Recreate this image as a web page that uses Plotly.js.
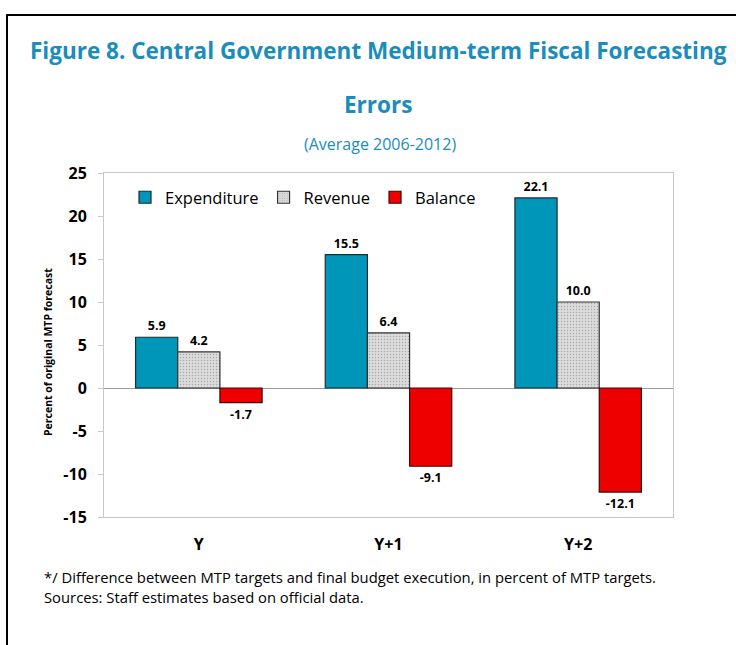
<!DOCTYPE html>
<html>
<head>
<meta charset="utf-8">
<script src="https://cdn.plot.ly/plotly-3.0.1.min.js"></script>
<style>
  html, body { margin:0; padding:0; background:#fff; }
  #chart { width:736px; height:645px; position:absolute; left:0; top:0; }
  #frame { position:absolute; left:6px; top:14px; width:740px; height:640px;
           border-left:2px solid #000; border-top:2px solid #000; pointer-events:none; z-index:5; }
</style>
</head>
<body>
<div id="chart"></div>
<div id="frame"></div>
<script>
const categories = ["Y", "Y+1", "Y+2"];
const expenditure = [5.9, 15.5, 22.1];
const revenue = [4.2, 6.4, 10.0];
const balance = [-1.7, -9.1, -12.1];
const seriesNames = ["Expenditure", "Revenue", "Balance"];
const yTicks = [-15, -10, -5, 0, 5, 10, 15, 20, 25];

const FONT = "'Open Sans', sans-serif";
const NUMFONT = "'Open Sans', sans-serif";
const TEAL = "#1B8CBB";

function fmt(v){ return v.toFixed(1); }

const labelFont = {family: NUMFONT, size: 12.5, color: "#000", weight: "bold"};

const traces = [
  {type:"bar", name:seriesNames[0], x:categories, y:expenditure,
   text: expenditure.map(fmt), textposition:"outside", textfont: labelFont, cliponaxis:false,
   marker:{color:"#0096BA", line:{color:"#1d2b33", width:1.2}}},
  {type:"bar", name:seriesNames[1], x:categories, y:revenue,
   text: revenue.map(fmt), textposition:"outside", textfont: labelFont, cliponaxis:false,
   marker:{color:"#d6d6d6", line:{color:"#333", width:1.2},
           pattern:{shape:".", bgcolor:"#dcdcdc", fgcolor:"#a8a8a8", size:3, solidity:0.2}}},
  {type:"bar", name:seriesNames[2], x:categories, y:balance,
   text: balance.map(fmt), textposition:"outside", textfont: labelFont, cliponaxis:false,
   marker:{color:"#EE0000", line:{color:"#3a0a0a", width:1.2}}}
];

const L = 104, R = 673, T = 173, B = 517;
const px = x => (x - L) / (R - L);
const py = y => (B - y) / (B - T);

const layout = {
  width:736, height:645,
  margin:{l:L, r:736-R, t:T, b:645-B, pad:0},
  paper_bgcolor:"#fff", plot_bgcolor:"#fff",
  barmode:"group", bargap:0.333, bargroupgap:0,
  showlegend:true,
  legend:{orientation:"h", x:px(125), y:py(180), xanchor:"left", yanchor:"top",
          font:{family:FONT, size:16.5, color:"#000"}, bgcolor:"rgba(0,0,0,0)",
          traceorder:"normal", itemwidth:30},
  xaxis:{type:"category", showgrid:false, zeroline:false, showline:true, mirror:true,
         linecolor:"#c8c8c8", linewidth:1, ticks:"", ticklabelstandoff:13,
         tickfont:{family:NUMFONT, size:16, color:"#000", weight:"bold"}},
  yaxis:{range:[-15,25], tickvals:yTicks, ticktext:yTicks.map(String), showgrid:false,
         zeroline:true, zerolinecolor:"#9a9a9a", zerolinewidth:1,
         showline:true, mirror:true, linecolor:"#c8c8c8", linewidth:1,
         ticks:"outside", ticklen:5, tickcolor:"#c8c8c8", ticklabelstandoff:8,
         tickfont:{family:NUMFONT, size:16, color:"#000", weight:"bold"}},
  annotations:[
    {xref:"paper", yref:"paper", x:px(378), y:py(50), xanchor:"center", yanchor:"middle", showarrow:false,
     text:"Figure 8. Central Government Medium-term Fiscal Forecasting",
     font:{family:FONT, size:22.5, color:TEAL, weight:"bold"}},
    {xref:"paper", yref:"paper", x:px(378), y:py(104), xanchor:"center", yanchor:"middle", showarrow:false,
     text:"Errors", font:{family:FONT, size:22.5, color:TEAL, weight:"bold"}},
    {xref:"paper", yref:"paper", x:px(380), y:py(144), xanchor:"center", yanchor:"middle", showarrow:false,
     text:"(Average 2006-2012)", font:{family:FONT, size:16, color:TEAL}},
    {xref:"paper", yref:"paper", x:px(48), y:py(352), xanchor:"center", yanchor:"middle", showarrow:false,
     textangle:-90, text:"Percent of original MTP forecast",
     font:{family:FONT, size:10.5, color:"#000", weight:"bold"}},
    {xref:"paper", yref:"paper", x:px(42), y:py(577), xanchor:"left", yanchor:"middle", showarrow:false,
     text:"*/ Difference between MTP targets and final budget execution, in percent of MTP targets.",
     font:{family:FONT, size:14.8, color:"#000"}},
    {xref:"paper", yref:"paper", x:px(42), y:py(597), xanchor:"left", yanchor:"middle", showarrow:false,
     text:"Sources: Staff estimates based on official data.",
     font:{family:FONT, size:14.8, color:"#000"}}
  ]
};

Plotly.newPlot("chart", traces, layout, {displayModeBar:false, staticPlot:true});
</script>
</body>
</html>
